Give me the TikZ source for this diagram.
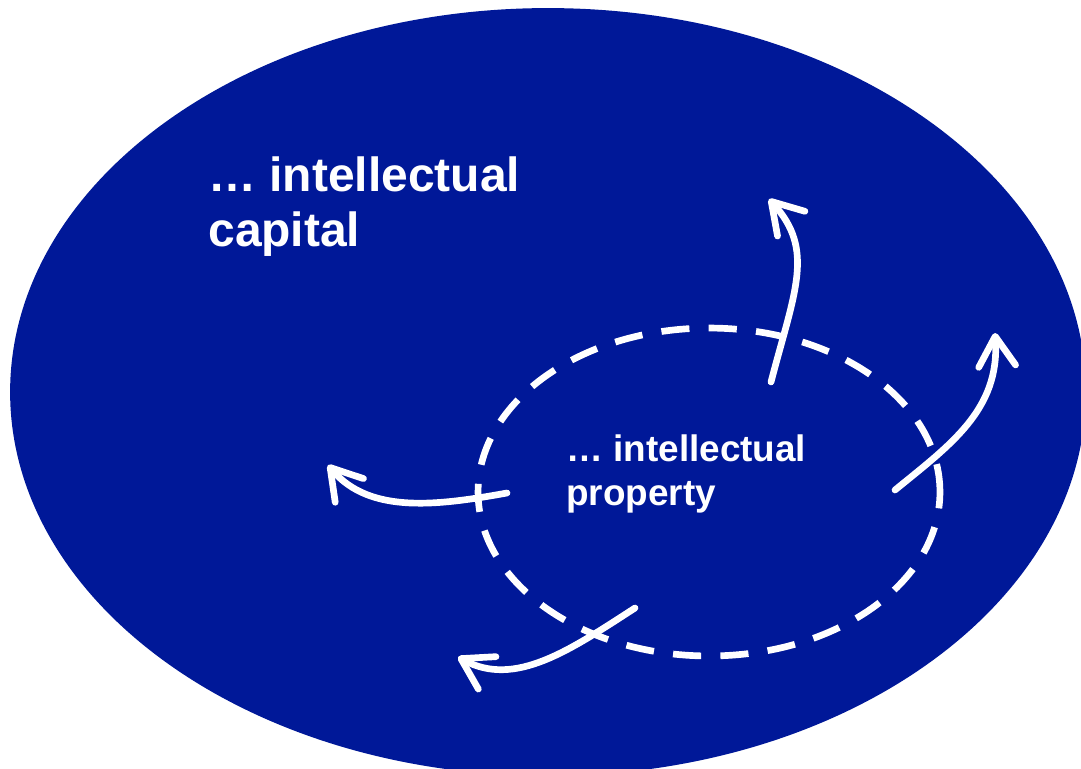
\documentclass[tikz,border=0pt]{standalone}
\usepackage{fontspec}
\setmainfont{Liberation Sans}
\usetikzlibrary{arrows.meta}
\definecolor{capital-blue}{HTML}{001898}

\begin{document}
\begin{tikzpicture}[
    x=0.02cm, y=-0.02cm,
    flow/.style={
        draw=white, line width=3.8pt, line cap=round,
        -{Straight Barb[length=17pt, width=21pt, round]},
    },
    border/.style={
        draw=white, line width=3.8pt, dash pattern=on 16pt off 11pt,
    },
    label/.style={
        text=white, anchor=base west, align=left, inner sep=0pt,
        font=\bfseries,
    },
]
\useasboundingbox (0,0) rectangle (1081,768);
\clip (0,0) rectangle (1081,768);

\fill[capital-blue] (548,392) ellipse [x radius=10.76cm, y radius=7.68cm];
\draw[border] (709,492) ellipse [x radius=4.62cm, y radius=3.28cm];

\node[label, font=\bfseries\fontsize{27.3}{31.3}\selectfont] (capital) at (208,246)
    {… intellectual\\capital};
\node[label, font=\bfseries\fontsize{21}{24.5}\selectfont] (property) at (566,505)
    {… intellectual\\property};

\coordinate (up-from) at (771,382);
\coordinate (up-to) at (769,199);
\coordinate (right-from) at (895,490);
\coordinate (right-to) at (995,333);
\coordinate (left-from) at (507,493);
\coordinate (left-to) at (328,465);
\coordinate (down-from) at (635,608);
\coordinate (down-to) at (458,657);

\draw[flow] (up-from) .. controls (795,290) and (815,250) .. (up-to);
\draw[flow] (right-from) .. controls (950,445) and (1000,410) .. (right-to);
\draw[flow] (left-from) .. controls (440,505) and (370,515) .. (left-to);
\draw[flow] (down-from) .. controls (570,650) and (515,688) .. (down-to);
\end{tikzpicture}
\end{document}
